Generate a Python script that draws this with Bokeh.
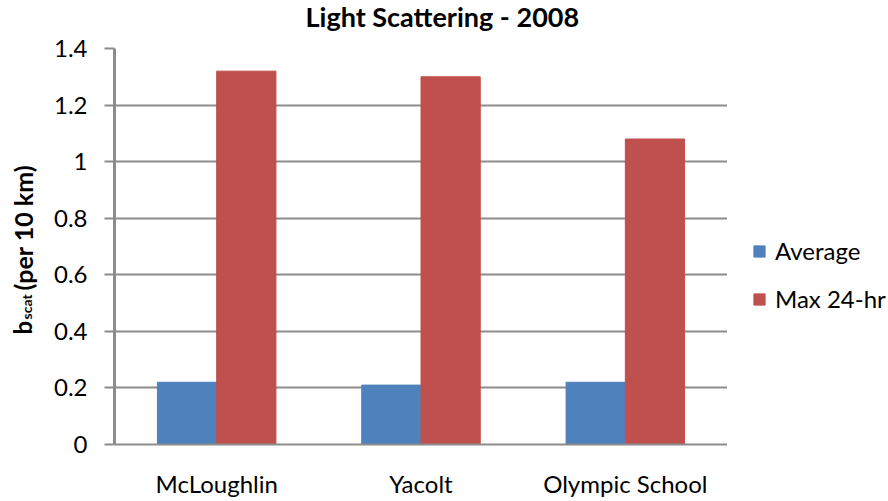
import math
from bokeh.plotting import figure
from bokeh.layouts import row, column
from bokeh.models import (ColumnDataSource, FactorRange, Range1d, FixedTicker, Legend,
                          LegendItem)
from bokeh.core.properties import value
from bokeh.transform import dodge
from bokeh.embed import file_html
from bokeh.resources import INLINE

# ---- data ----
categories = ["McLoughlin", "Yacolt", "Olympic School"]
average = [0.22, 0.21, 0.22]
max_24hr = [1.32, 1.30, 1.08]
series_names = ["Average", "Max 24-hr"]
y_ticks = [0, 0.2, 0.4, 0.6, 0.8, 1.0, 1.2, 1.4]
y_tick_labels = ["0", "0.2", "0.4", "0.6", "0.8", "1", "1.2", "1.4"]
title_text = ["Light Scattering - 2008"]
ylabel_parts = ["b", "scat", "(per 10 km)"]

BLUE = "#4F81BD"
RED = "#C0504D"
GRID = "#8c8c8c"
FONT = "Lato"

TOTAL_W, TOTAL_H = 888, 501
TOP_H = 34
LEFT_W = 45
FRAME_L, FRAME_R, FRAME_T, FRAME_B = 114, 727, 48, 444
ROW_H = TOTAL_H - TOP_H
RIGHT_W = TOTAL_W - FRAME_R


def strip(width, height, y0, y1):
    f = figure(width=width, height=height, x_range=Range1d(0, width),
               y_range=Range1d(y0, y1), output_backend="svg",
               toolbar_location=None, min_border=0)
    f.axis.visible = False
    f.grid.visible = False
    f.outline_line_color = None
    return f


# ---- top strip: title ----
top = strip(TOTAL_W, TOP_H, 0, TOP_H)
top.text(x=[305], y=[TOP_H - 16], text=title_text, text_font=value(FONT),
         text_font_style="bold", text_font_size="27px", text_align="left",
         text_baseline="alphabetic", text_color="black")

# ---- left strip: y-axis title with subscript (frame aligned with main frame) ----
lab = strip(LEFT_W, ROW_H, TOTAL_H - FRAME_B, TOTAL_H - FRAME_T)
lab_src = ColumnDataSource(dict(
    t=ylabel_parts,
    x=[22, 26, 22],
    y=[TOTAL_H - 334, TOTAL_H - 319, TOTAL_H - 290],
    size=["24px", "14px", "25px"],
))
lab.text(x="x", y="y", text="t", source=lab_src, angle=math.pi / 2,
         text_font=value(FONT), text_font_style="bold", text_font_size="size",
         text_align="left", text_baseline="alphabetic", text_color="black")

# ---- main chart ----
source = ColumnDataSource(dict(cat=categories, average=average, max24=max_24hr))

p = figure(
    width=FRAME_R - LEFT_W, height=ROW_H,
    x_range=FactorRange(*categories, range_padding=0),
    y_range=Range1d(0, 1.4),
    output_backend="svg", toolbar_location=None,
    min_border_left=FRAME_L - LEFT_W, min_border_right=0,
    min_border_top=FRAME_T - TOP_H, min_border_bottom=TOTAL_H - FRAME_B,
)
p.outline_line_color = None
p.background_fill_color = "white"
p.border_fill_color = "white"

p.vbar(x=dodge("cat", -0.145, range=p.x_range), top="average", width=0.29,
       source=source, fill_color=BLUE, line_color=BLUE)
p.vbar(x=dodge("cat", 0.145, range=p.x_range), top="max24", width=0.29,
       source=source, fill_color=RED, line_color=RED)

# grid
p.xgrid.grid_line_color = None
p.ygrid.grid_line_color = GRID
p.ygrid.grid_line_width = 2

# y axis
p.yaxis.ticker = FixedTicker(ticks=y_ticks)
p.yaxis.major_label_overrides = dict(zip(y_ticks, y_tick_labels))
p.yaxis.major_label_text_font = FONT
p.yaxis.major_label_text_font_size = "24px"
p.yaxis.major_label_text_color = "black"
p.yaxis.major_label_standoff = 17
p.yaxis.major_tick_out = 10
p.yaxis.major_tick_in = 0
p.yaxis.minor_tick_line_color = None
p.yaxis.major_tick_line_color = GRID
p.yaxis.major_tick_line_width = 2
p.yaxis.axis_line_color = GRID
p.yaxis.axis_line_width = 3
p.yaxis.axis_label = None

# x axis
p.xaxis.major_label_text_font = FONT
p.xaxis.major_label_text_font_size = "24px"
p.xaxis.major_label_text_color = "black"
p.xaxis.major_label_standoff = 24
p.xaxis.major_tick_line_color = None
p.xaxis.major_tick_out = 0
p.xaxis.major_tick_in = 0
p.xaxis.axis_line_color = GRID
p.xaxis.axis_line_width = 2

# ---- right strip: legend (proxy renderers share the real data, hidden) ----
leg = strip(RIGHT_W, ROW_H, 0, 1)
rb = leg.vbar(x="cat", top="average", width=0.29, source=source,
              fill_color=BLUE, line_color=BLUE, visible=False)
rr = leg.vbar(x="cat", top="max24", width=0.29, source=source,
              fill_color=RED, line_color=RED, visible=False)
lg = Legend(items=[LegendItem(label=series_names[0], renderers=[rb]),
                   LegendItem(label=series_names[1], renderers=[rr])])
lg.location = (752 - FRAME_R, FRAME_B - 313)
lg.label_text_font = FONT
lg.label_text_font_size = "24px"
lg.label_text_color = "black"
lg.glyph_width = 14
lg.glyph_height = 14
lg.label_standoff = 9
lg.spacing = 19
lg.padding = 0
lg.margin = 0
lg.border_line_color = None
lg.background_fill_alpha = 0
lg.inactive_fill_alpha = 0
leg.add_layout(lg, "center")

layout = column(top, row(lab, p, leg, spacing=0), spacing=0)
open("out.html", "w").write(file_html(layout, INLINE))
